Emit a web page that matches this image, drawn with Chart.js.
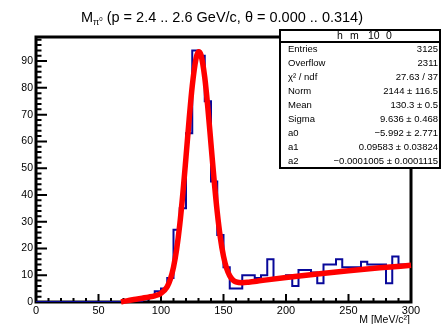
<!DOCTYPE html>
<html>
<head>
<meta charset="utf-8">
<script src="https://cdn.jsdelivr.net/npm/chart.js@4.4.1/dist/chart.umd.min.js"></script>
<style>
  html, body { margin: 0; padding: 0; background: #fff; }
  #c { display: block; }
</style>
</head>
<body>
<canvas id="c" width="441" height="324"></canvas>
<script>
// histograma h_m_10_0 : 60 bins de 5 MeV entre 0 y 300
const binStart = 0;
const binWidth = 5;
const counts = [
  0, 0, 0, 0, 0, 0, 0, 0, 0, 0,
  0, 0, 0, 0, 0, 0, 0, 1, 2, 4,
  5, 9, 27, 35, 63, 94, 92, 75, 45, 25,
  13, 5, 5, 10, 10, 9, 10, 16, 9, 9,
  10, 6, 12, 12, 11, 7, 14, 14, 16, 13,
  13, 13, 15, 14, 14, 14, 7, 17, 14, 14
];

// curva del ajuste (gaus + pol2), leida sobre la linea roja
const fitX = [68, 70, 75, 80, 85, 90, 95, 100, 105, 107.5, 110, 112.5, 115, 117.5, 120, 122.5, 125, 128, 130, 132,
  135, 137.5, 140, 142.5, 145, 147.5, 150, 152.5, 155, 157.5, 160, 165, 170, 180, 200, 225, 250, 275, 300];
const fitY = [0.06, 0.22, 0.63, 1.03, 1.43, 1.83, 2.31, 3.22, 5.79, 8.55, 12.98, 19.64, 28.86, 40.63, 54.19, 68.2, 80.72, 90.9, 93.49, 92.3,
  83.9, 72.42, 58.94, 45.45, 33.52, 24.0, 17.1, 12.52, 9.77, 8.26, 7.54, 7.22, 7.41, 8.0, 9.15, 10.48, 11.69, 12.76, 13.71];

// caja de estadisticas
const statTitle = ['h', 'm', '10', '0'];
const statLabels = ['Entries', 'Overflow', 'χ² / ndf', 'Norm', 'Mean', 'Sigma', 'a0', 'a1', 'a2'];
const statValues = ['3125', '2311', '27.63 / 37', '2144 ± 116.5', '130.3 ± 0.5', '9.636 ± 0.468',
  '−5.992 ± 2.771', '0.09583 ± 0.03824', '−0.0001005 ± 0.0001115'];

const xMin = 0, xMax = 300, yMax = 99;
const FONT = '"Liberation Sans", Arial, sans-serif';

// puntos del histograma (borde inferior de cada bin + cierre en xMax)
const histPoints = counts.map((v, i) => ({ x: binStart + i * binWidth, y: v }));
histPoints.push({ x: xMax, y: counts[counts.length - 1] });
const fitPoints = fitX.map((x, i) => ({ x: x, y: fitY[i] }));

// marco y marcas hacia dentro, estilo ROOT
const framePlugin = {
  id: 'frame',
  beforeDatasetsDraw(chart) {
    const ctx = chart.ctx;
    const { left, right, top, bottom } = chart.chartArea;
    const xs = chart.scales.x, ys = chart.scales.y;
    ctx.save();
    ctx.strokeStyle = '#000';
    ctx.lineWidth = 2;
    ctx.beginPath();
    for (let v = xMin; v <= xMax; v += 10) {
      const px = xs.getPixelForValue(v);
      const len = v % 50 === 0 ? 8 : 4;
      ctx.moveTo(px, bottom);
      ctx.lineTo(px, bottom - len);
    }
    for (let v = 0; v < yMax; v += 2) {
      const py = ys.getPixelForValue(v);
      const len = v % 10 === 0 ? 11 : 5.5;
      ctx.moveTo(left, py);
      ctx.lineTo(left + len, py);
    }
    ctx.stroke();
    ctx.lineWidth = 3;
    ctx.strokeRect(left, top, right - left, bottom - top);
    ctx.restore();
  }
};

// titulo, titulo del eje x y caja de estadisticas
const overlayPlugin = {
  id: 'overlay',
  afterDraw(chart) {
    const ctx = chart.ctx;
    const area = chart.chartArea;
    ctx.save();
    ctx.fillStyle = '#000';
    ctx.textBaseline = 'alphabetic';

    // titulo con subindice pi0
    const big = '14.5px ' + FONT, sub = '9px ' + FONT, sup = '6px ' + FONT;
    const rest = ' (p = 2.4 .. 2.6 GeV/c, θ = 0.000 .. 0.314)';
    ctx.font = big; const wM = ctx.measureText('M').width; const wR = ctx.measureText(rest).width;
    ctx.font = sub; const wP = ctx.measureText('π').width;
    ctx.font = sup; const w0 = ctx.measureText('0').width;
    const total = wM + wP + w0 + wR;
    let tx = 222 - total / 2;
    const ty = 22;
    ctx.font = big; ctx.fillText('M', tx, ty); tx += wM;
    ctx.font = sub; ctx.fillText('π', tx, ty + 3); tx += wP;
    ctx.font = sup; ctx.fillText('0', tx, ty - 1); tx += w0;
    ctx.font = big; ctx.fillText(rest, tx, ty);

    // titulo del eje x, alineado a la derecha
    ctx.font = '10.5px ' + FONT;
    ctx.textAlign = 'right';
    ctx.fillText('M [MeV/c²]', area.right - 1, 323);
    ctx.textAlign = 'left';

    // caja
    const bx = 280, by = 30, bw = 160, bh = 138, head = 12;
    ctx.fillStyle = '#fff';
    ctx.fillRect(bx, by, bw, bh);
    ctx.strokeStyle = '#000';
    ctx.lineWidth = 2;
    ctx.strokeRect(bx, by, bw, bh);
    ctx.beginPath();
    ctx.moveTo(bx, by + head);
    ctx.lineTo(bx + bw, by + head);
    ctx.stroke();

    ctx.fillStyle = '#000';
    ctx.font = '10.5px ' + FONT;
    ctx.textBaseline = 'middle';
    const headX = [337, 350, 368, 386];
    statTitle.forEach((t, i) => ctx.fillText(t, headX[i], by + 6.5));

    ctx.font = '9.5px ' + FONT;
    const rowH = (bh - head) / statLabels.length;
    statLabels.forEach((lab, i) => {
      const y = by + head + rowH * (i + 0.5);
      ctx.textAlign = 'left';
      ctx.fillText(lab, bx + 8, y);
      ctx.textAlign = 'right';
      ctx.fillText(statValues[i], bx + bw - 2, y);
    });
    ctx.restore();
  }
};

new Chart(document.getElementById('c'), {
  type: 'line',
  data: {
    datasets: [
      {
        label: 'fit',
        data: fitPoints,
        borderColor: '#ff0000',
        borderWidth: 5.5,
        pointRadius: 0,
        cubicInterpolationMode: 'monotone',
        fill: false,
        clip: false,
        order: 0
      },
      {
        label: 'h_m_10_0',
        data: histPoints,
        borderColor: '#08089a',
        borderWidth: 2,
        pointRadius: 0,
        stepped: true,
        fill: false,
        order: 1
      }
    ]
  },
  options: {
    responsive: false,
    animation: false,
    layout: { padding: { top: 37, right: 30, left: 0, bottom: 0 } },
    plugins: {
      legend: { display: false },
      tooltip: { enabled: false }
    },
    scales: {
      x: {
        type: 'linear',
        min: xMin,
        max: xMax,
        grid: { display: false, drawTicks: false },
        border: { display: false },
        ticks: {
          stepSize: 50,
          padding: 2,
          maxRotation: 0,
          color: '#000',
          font: { family: FONT, size: 11 }
        },
        afterFit(scale) { scale.height = 22; }
      },
      y: {
        min: 0,
        max: yMax,
        grid: { display: false, drawTicks: false },
        border: { display: false },
        ticks: {
          stepSize: 10,
          includeBounds: false,
          padding: 3,
          color: '#000',
          font: { family: FONT, size: 10.5 }
        },
        afterFit(scale) { scale.width = 36; }
      }
    }
  },
  plugins: [framePlugin, overlayPlugin]
});
</script>
</body>
</html>
